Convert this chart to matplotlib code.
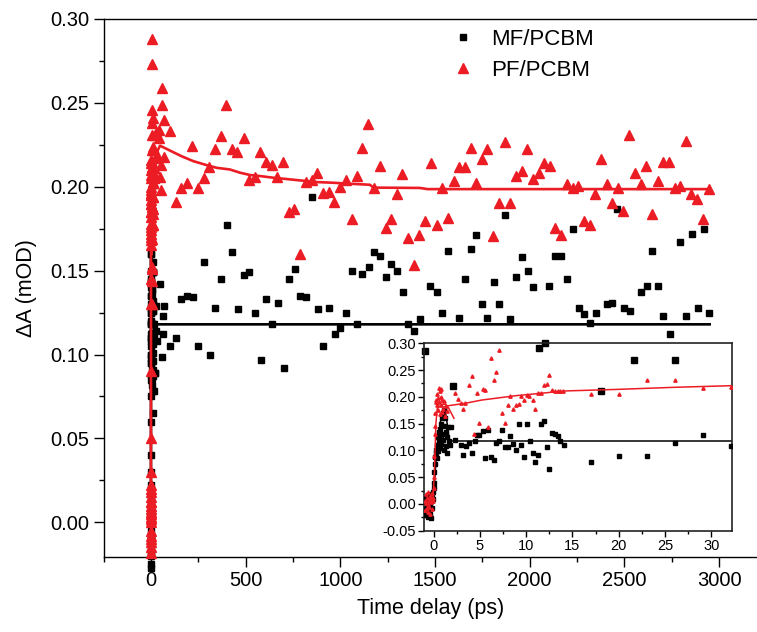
import numpy as np
import matplotlib
matplotlib.use("Agg")
import matplotlib.pyplot as plt
from matplotlib.ticker import MultipleLocator, FormatStrFormatter

plt.rcParams['font.family'] = ['Liberation Sans', 'DejaVu Sans']

RED = '#EC1C24'

# ---------------- data: PF/PCBM (red triangles) ----------------
pf_t_early = [-0.95, -0.9, -0.85, -0.8, -0.75, -0.7, -0.65, -0.6, -0.55, -0.5, -0.45, -0.4,
              -0.35, -0.3, -0.25, -0.2, -0.15, -0.1, -0.05, 0.0, 0.05, 0.1, 0.12, 0.15, 0.2,
              0.25, 0.3, 0.35, 0.4, 0.45, 0.5, 0.55, 0.6, 0.65, 0.7, 0.75, 0.8, 0.85, 0.9,
              0.95, 1.0, 1.1, 1.2, 1.3, 1.45,
              2.27, 2.63, 2.92, 3.17, 3.42, 3.78, 4.14, 4.4, 4.68, 4.94, 5.3, 5.59, 5.87, 6.23,
              6.49, 6.77, 7.1, 7.39, 7.68, 8.0, 8.29, 8.58, 8.9, 9.19, 9.48, 9.8, 10.1, 10.34,
              10.7, 11.0, 11.3, 11.6, 11.9, 12.2, 12.5, 12.8, 13.1, 13.4, 13.7, 14.0,
              17.0, 20.0, 23.07, 26.05, 29.1, 32.1]
pf_v_early = [0.005, -0.012, 0.018, 0.002, -0.008, 0.012, -0.015, 0.022, 0.0, 0.008, -0.005, 0.015,
              -0.018, 0.010, 0.003, -0.010, 0.020, 0.006, 0.012, 0.030, 0.050, 0.090, 0.130, 0.145, 0.170,
              0.190, 0.195, 0.185, 0.205, 0.176, 0.198, 0.216, 0.190, 0.210, 0.168, 0.200, 0.185, 0.214, 0.172,
              0.195, 0.178, 0.192, 0.165, 0.182, 0.174,
              0.207, 0.196, 0.188, 0.177, 0.188, 0.222, 0.238, 0.130, 0.207, 0.151, 0.215, 0.212, 0.144, 0.273,
              0.231, 0.246, 0.288, 0.169, 0.152, 0.185, 0.202, 0.177, 0.184, 0.187, 0.202, 0.194, 0.203, 0.202,
              0.194, 0.177, 0.208, 0.208, 0.222, 0.224, 0.241, 0.212, 0.211, 0.211, 0.211, 0.211,
              0.205, 0.206, 0.231, 0.232, 0.217, 0.219]

pf_t_late = [40, 44, 48, 51, 55, 56, 60, 69, 70, 100, 130, 158, 188, 218, 246, 280, 308, 338, 368,
             398, 426, 457, 489, 517, 549, 577, 607, 637, 667, 697, 727, 757, 787, 817, 848, 878,
             906, 938, 968, 998, 1028, 1059, 1089, 1117, 1147, 1177, 1209, 1239, 1267, 1297, 1327,
             1359, 1388, 1417, 1448, 1478, 1508, 1538, 1566, 1598, 1627, 1657, 1688, 1717, 1747,
             1777, 1807, 1837, 1867, 1897, 1927, 1957, 1987, 2017, 2047, 2076, 2106, 2136, 2166,
             2196, 2226, 2256, 2286, 2316, 2345, 2376, 2406, 2435, 2465, 2495, 2525, 2555, 2585,
             2615, 2645, 2675, 2704, 2734, 2765, 2794, 2824, 2854, 2884, 2914, 2944]
pf_v_late = [0.234, 0.229, 0.206, 0.198, 0.213, 0.249, 0.259, 0.218, 0.240, 0.233, 0.191, 0.199,
             0.202, 0.2245, 0.199, 0.205, 0.2115, 0.2225, 0.230, 0.249, 0.2225, 0.2205, 0.229, 0.204,
             0.206, 0.2205, 0.215, 0.213, 0.2056, 0.215, 0.185, 0.187, 0.160, 0.203, 0.204, 0.208,
             0.196, 0.197, 0.191, 0.200, 0.204, 0.1805, 0.2065, 0.2234, 0.2374, 0.1994, 0.2123, 0.1753,
             0.1805, 0.1954, 0.2075, 0.1694, 0.1533, 0.1714, 0.1795, 0.2143, 0.1773, 0.1994, 0.1815,
             0.2034, 0.2115, 0.2115, 0.2234, 0.2024, 0.2165, 0.2225, 0.1704, 0.1905, 0.2264, 0.1905,
             0.2065, 0.2095, 0.2225, 0.2044, 0.2084, 0.2143, 0.2125, 0.1753, 0.1714, 0.2014, 0.1994,
             0.2004, 0.1795, 0.1773, 0.1954, 0.2165, 0.2014, 0.1905, 0.1994, 0.1855, 0.2306, 0.2084,
             0.2014, 0.2125, 0.1835, 0.2034, 0.2145, 0.2145, 0.1994, 0.2004, 0.2274, 0.1954, 0.1925,
             0.1805, 0.1984]

# ---------------- data: MF/PCBM (black squares) ----------------
mf_t_early = [-0.95, -0.9, -0.85, -0.8, -0.75, -0.7, -0.65, -0.6, -0.55, -0.5, -0.45, -0.4,
              -0.35, -0.3, -0.25, -0.2, -0.15, -0.1, -0.05, 0.0, 0.05, 0.1, 0.15, 0.2, 0.25, 0.3,
              0.35, 0.4, 0.45, 0.5, 0.55, 0.6, 0.65, 0.7, 0.75, 0.8, 0.85, 0.9, 0.95, 1.0, 1.05,
              1.1, 1.15, 1.2, 1.25, 1.3, 1.35, 1.4, 1.5, 1.6, 1.7, 1.8, 1.91,
              2.27, 2.92, 3.17, 3.5, 3.78, 4.14, 4.43, 4.68, 4.94, 5.3, 5.59, 5.87, 6.16, 6.49,
              6.77, 7.1, 7.39, 7.68, 8.0, 8.29, 8.58, 8.9, 9.19, 9.48, 9.8, 10.1, 10.4, 10.7,
              11.0, 11.3, 11.6, 11.9, 12.2, 12.5, 12.8, 13.1, 13.4, 13.7, 14.05,
              17.0, 20.0, 23.07, 26.05, 29.1, 32.1]
mf_v_early = [-0.010, 0.005, -0.020, 0.012, -0.005, -0.015, 0.008, -0.025, 0.0, 0.015, -0.010, 0.002,
              -0.018, -0.027, 0.005, -0.008, 0.018, 0.010, 0.022, 0.030, 0.040, 0.060, 0.075, 0.088, 0.095, 0.100,
              0.085, 0.110, 0.125, 0.098, 0.135, 0.118, 0.140, 0.105, 0.128, 0.150, 0.112, 0.160, 0.130, 0.170, 0.120,
              0.175, 0.100, 0.145, 0.160, 0.108, 0.135, 0.095, 0.125, 0.143, 0.118, 0.110, 0.144,
              0.119, 0.110, 0.091, 0.108, 0.113, 0.096, 0.118, 0.129, 0.129, 0.136, 0.086, 0.139, 0.087, 0.082,
              0.113, 0.118, 0.139, 0.106, 0.107, 0.126, 0.112, 0.101, 0.149, 0.110, 0.087, 0.149, 0.118, 0.096,
              0.078, 0.091, 0.149, 0.155, 0.106, 0.065, 0.132, 0.130, 0.126, 0.118, 0.110,
              0.078, 0.089, 0.089, 0.114, 0.129, 0.108]

mf_t_late = [49, 56, 62, 62, 67, 100, 132, 158, 188, 220, 246, 278, 311, 338, 370, 400, 426, 459,
             489, 517, 547, 581, 607, 637, 670, 700, 727, 760, 787, 817, 848, 880, 906, 938, 971,
             998, 1028, 1059, 1089, 1117, 1149, 1177, 1209, 1239, 1267, 1297, 1331, 1355, 1387,
             1418, 1446, 1476, 1508, 1536, 1566, 1594, 1626, 1657, 1688, 1714, 1747, 1777, 1809,
             1837, 1867, 1895, 1927, 1957, 1991, 2017, 2048, 2078, 2104, 2136, 2166, 2196, 2226,
             2258, 2286, 2317, 2348, 2376, 2406, 2437, 2462, 2496, 2527, 2553, 2587, 2617, 2645,
             2677, 2706, 2740, 2765, 2796, 2824, 2856, 2886, 2918, 2944]
mf_v_late = [0.142, 0.0986, 0.123, 0.1125, 0.129, 0.105, 0.110, 0.133, 0.135, 0.134, 0.105, 0.155,
             0.100, 0.128, 0.145, 0.177, 0.161, 0.127, 0.1475, 0.149, 0.125, 0.097, 0.133, 0.118,
             0.131, 0.092, 0.145, 0.151, 0.135, 0.134, 0.194, 0.127, 0.105, 0.128, 0.112, 0.116,
             0.125, 0.150, 0.118, 0.148, 0.152, 0.161, 0.159, 0.146, 0.154, 0.150, 0.137, 0.118,
             0.114, 0.121, 0.102, 0.141, 0.137, 0.125, 0.162, 0.081, 0.122, 0.145, 0.163, 0.171,
             0.130, 0.122, 0.143, 0.130, 0.183, 0.121, 0.146, 0.158, 0.150, 0.140, 0.104, 0.107,
             0.141, 0.159, 0.159, 0.145, 0.175, 0.128, 0.124, 0.119, 0.125, 0.078, 0.130, 0.131,
             0.187, 0.128, 0.126, 0.097, 0.137, 0.141, 0.162, 0.141, 0.123, 0.112, 0.097, 0.167,
             0.123, 0.172, 0.128, 0.175, 0.125]

# ---------------- fit curves ----------------
pf_fit_rise_t = [-1.0, -0.1, 0.1, 0.25, 0.4, 0.7, 1.0, 1.3, 1.6, 1.9, 2.2]
pf_fit_rise_v = [0.003, 0.003, 0.06, 0.15, 0.178, 0.183, 0.186, 0.186, 0.180, 0.170, 0.160]
pf_fit_t = [1.0, 1.44, 3.42, 5.2, 7.0, 8.8, 10.6, 12.4, 14.2, 20.0, 26.0, 32.1, 48, 109, 162, 223,
            294, 347, 417, 470, 523, 575, 646, 787, 875, 962, 1050, 1156, 1175, 1420, 1460, 2950]
pf_fit_v = [0.181, 0.183, 0.188, 0.194, 0.198, 0.202, 0.205, 0.208, 0.211, 0.214, 0.2178, 0.2208,
            0.2245, 0.2211, 0.2182, 0.2153, 0.2129, 0.2113, 0.2103, 0.2084, 0.2070, 0.2064, 0.2054,
            0.2038, 0.2028, 0.2024, 0.2018, 0.2012, 0.1995, 0.1993, 0.1986, 0.1986]

mf_fit_rise_t = [-1.0, -0.1, 0.1, 0.3, 0.5, 0.8, 1.1, 1.35, 1.55, 1.7]
mf_fit_rise_v = [0.0, 0.0, 0.04, 0.09, 0.12, 0.16, 0.175, 0.165, 0.14, 0.118]
mf_fit_t = [1.6, 50, 2950]
mf_fit_v = [0.118, 0.118, 0.118]

# ---------------- figure ----------------
W, H = 757, 632
fig = plt.figure(figsize=(W / 100, H / 100), dpi=100)

ax = fig.add_axes([103.6 / W, 1 - 556.7 / H, (W - 103.6) / W, (556.7 - 19) / H])

all_mf_t = mf_t_early + mf_t_late
all_mf_v = mf_v_early + mf_v_late
all_pf_t = pf_t_early + pf_t_late
all_pf_v = pf_v_early + pf_v_late

ax.plot(mf_fit_rise_t + mf_fit_t, mf_fit_rise_v + mf_fit_v, color='black', lw=1.9, zorder=2)
ax.plot(all_mf_t, all_mf_v, ls='none', marker='s', ms=4.6, color='black', mec='black',
        clip_on=False, zorder=3, label='MF/PCBM')
ax.plot(all_pf_t, all_pf_v, ls='none', marker='^', ms=6.5, color=RED, mec=RED,
        clip_on=False, zorder=4, label='PF/PCBM')
ax.plot(pf_fit_rise_t, pf_fit_rise_v, color=RED, lw=1.9, zorder=5)
ax.plot(pf_fit_t, pf_fit_v, color=RED, lw=1.9, zorder=5)

ax.set_xlim(-250, 3200)
ax.set_ylim(-0.0205, 0.30)
ax.xaxis.set_major_locator(MultipleLocator(500))
ax.xaxis.set_minor_locator(MultipleLocator(250))
ax.yaxis.set_major_locator(MultipleLocator(0.05))
ax.yaxis.set_minor_locator(MultipleLocator(0.025))
ax.yaxis.set_major_formatter(FormatStrFormatter('%.2f'))
ax.tick_params(which='major', direction='out', length=7, width=1.0, labelsize=14.5, pad=3)
ax.tick_params(which='minor', direction='out', length=3.5, width=1.0)
ax.tick_params(top=False, right=False)
ax.spines['right'].set_visible(False)
for s in ['left', 'bottom', 'top']:
    ax.spines[s].set_linewidth(1.0)
ax.set_xlabel('Time delay (ps)', fontsize=15.5, labelpad=6)
ax.set_ylabel('ΔA (mOD)', fontsize=15.5, labelpad=10)

leg = ax.legend(loc='upper left', bbox_to_anchor=(452 / W, 1 - 29 / H), bbox_transform=fig.transFigure,
                frameon=False, fontsize=16, handlelength=1.0, handletextpad=0.75,
                labelspacing=0.45, borderpad=0, borderaxespad=0)

# ---------------- inset ----------------
axin = fig.add_axes([424.3 / W, 1 - 530.7 / H, (731.7 - 424.3) / W, (530.7 - 343.3) / H])
axin.patch.set_alpha(0)
axin.plot(mf_fit_rise_t, mf_fit_rise_v, color='black', lw=1.1, zorder=2)
axin.plot(mf_fit_t, mf_fit_v, color='black', lw=1.1, zorder=2)
axin.plot(mf_t_early, mf_v_early, ls='none', marker='s', ms=2.2, color='black', mec='black', zorder=3)
axin.plot(pf_t_early, pf_v_early, ls='none', marker='^', ms=2.4, color=RED, mec=RED, zorder=4)
axin.plot(pf_fit_rise_t, pf_fit_rise_v, color=RED, lw=1.1, zorder=5)
axin.plot(pf_fit_t, pf_fit_v, color=RED, lw=1.1, zorder=5)
axin.set_xlim(-1.0, 32.2)
axin.set_ylim(-0.05, 0.30)
axin.xaxis.set_major_locator(MultipleLocator(5))
axin.xaxis.set_minor_locator(MultipleLocator(2.5))
axin.yaxis.set_major_locator(MultipleLocator(0.05))
axin.yaxis.set_minor_locator(MultipleLocator(0.025))
axin.yaxis.set_major_formatter(FormatStrFormatter('%.2f'))
axin.tick_params(which='major', direction='out', length=4, width=1.0, labelsize=10.5, pad=2)
axin.tick_params(which='minor', direction='out', length=2.5, width=1.0)
for s in axin.spines.values():
    s.set_linewidth(1.2)
    s.set_color('#222222')

fig.savefig('out.png', dpi=100)
